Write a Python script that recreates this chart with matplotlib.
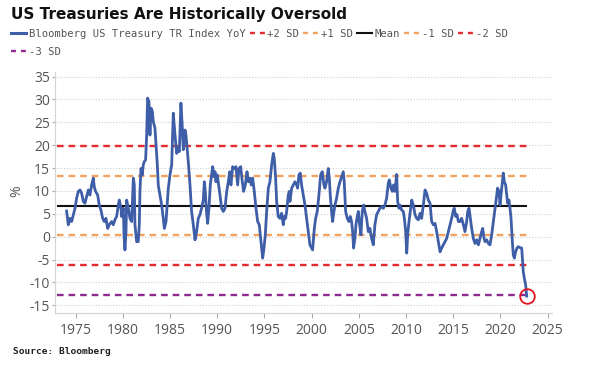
import matplotlib
matplotlib.use("Agg")
import matplotlib.pyplot as plt
from matplotlib.lines import Line2D

plt.rcParams['axes.unicode_minus'] = False

# ---- data ----
years = [1974.04, 1974.22, 1974.40, 1974.57, 1974.75, 1974.93, 1975.10, 1975.28, 1975.46, 1975.63,
         1975.81, 1975.98, 1976.16, 1976.34, 1976.51, 1976.69, 1976.87, 1976.97, 1977.11, 1977.33,
         1977.50, 1977.68, 1977.86, 1978.03, 1978.21, 1978.39, 1978.56, 1978.81, 1978.99, 1979.16,
         1979.34, 1979.52, 1979.62, 1979.80, 1979.87, 1980.05, 1980.12, 1980.22, 1980.33, 1980.40,
         1980.58, 1980.75, 1980.93, 1981.11, 1981.21, 1981.28, 1981.46, 1981.63, 1981.74, 1981.81,
         1981.92, 1982.06, 1982.16, 1982.27, 1982.41, 1982.52, 1982.62, 1982.77, 1982.87, 1982.98,
         1983.12, 1983.22, 1983.40, 1983.51, 1983.65, 1983.75, 1983.93, 1984.11, 1984.28, 1984.39,
         1984.57, 1984.81, 1984.99, 1985.17, 1985.34, 1985.52, 1985.70, 1985.87, 1985.98, 1986.15,
         1986.30, 1986.40, 1986.58, 1986.68, 1986.79, 1986.93, 1987.11, 1987.28, 1987.46, 1987.64,
         1987.81, 1987.99, 1988.17, 1988.34, 1988.52, 1988.63, 1988.73, 1988.87, 1988.98, 1989.12,
         1989.26, 1989.40, 1989.51, 1989.65, 1989.76, 1989.86, 1990.00, 1990.15, 1990.29, 1990.46,
         1990.64, 1990.82, 1991.00, 1991.17, 1991.31, 1991.45, 1991.63, 1991.80, 1991.98, 1992.16,
         1992.30, 1992.48, 1992.65, 1992.79, 1992.97, 1993.15, 1993.29, 1993.46, 1993.60, 1993.75,
         1993.92, 1994.10, 1994.28, 1994.45, 1994.63, 1994.81, 1994.95, 1995.09, 1995.23, 1995.41,
         1995.58, 1995.76, 1995.94, 1996.04, 1996.18, 1996.29, 1996.46, 1996.64, 1996.82, 1996.99,
         1997.10, 1997.24, 1997.35, 1997.52, 1997.63, 1997.70, 1997.88, 1998.05, 1998.23, 1998.41,
         1998.51, 1998.65, 1998.79, 1998.93, 1999.11, 1999.29, 1999.46, 1999.64, 1999.82, 1999.99,
         2000.10, 2000.28, 2000.42, 2000.59, 2000.77, 2000.95, 2001.12, 2001.30, 2001.41, 2001.58,
         2001.76, 2001.87, 2001.97, 2002.11, 2002.22, 2002.36, 2002.47, 2002.64, 2002.82, 2003.00,
         2003.17, 2003.35, 2003.45, 2003.60, 2003.77, 2003.95, 2004.09, 2004.23, 2004.34, 2004.44,
         2004.58, 2004.69, 2004.80, 2004.94, 2005.08, 2005.22, 2005.36, 2005.50, 2005.64, 2005.82,
         2006.00, 2006.17, 2006.35, 2006.53, 2006.70, 2006.88, 2007.06, 2007.23, 2007.41, 2007.59,
         2007.76, 2007.94, 2008.12, 2008.22, 2008.40, 2008.54, 2008.68, 2008.83, 2009.00, 2009.11,
         2009.25, 2009.36, 2009.54, 2009.71, 2009.82, 2009.96, 2010.07, 2010.17, 2010.31, 2010.45,
         2010.60, 2010.77, 2010.95, 2011.12, 2011.30, 2011.48, 2011.65, 2011.83, 2012.01, 2012.18,
         2012.36, 2012.54, 2012.71, 2012.89, 2013.07, 2013.24, 2013.42, 2013.60, 2013.77, 2013.95,
         2014.13, 2014.30, 2014.48, 2014.66, 2014.83, 2015.01, 2015.11, 2015.26, 2015.40, 2015.54,
         2015.71, 2015.89, 2016.07, 2016.24, 2016.42, 2016.53, 2016.67, 2016.81, 2016.95, 2017.13,
         2017.30, 2017.48, 2017.66, 2017.83, 2018.01, 2018.12, 2018.26, 2018.36, 2018.54, 2018.72,
         2018.89, 2019.07, 2019.25, 2019.42, 2019.60, 2019.70, 2019.85, 2019.95, 2020.06, 2020.20,
         2020.30, 2020.41, 2020.55, 2020.66, 2020.76, 2020.90, 2021.01, 2021.12, 2021.26, 2021.36,
         2021.47, 2021.61, 2021.75, 2021.89, 2022.07, 2022.25, 2022.32, 2022.42, 2022.53, 2022.67,
         2022.78]

yoy = [5.6, 2.6, 4.0, 3.3, 4.8, 6.2, 8.4, 9.9, 10.2, 9.5,
       7.7, 7.3, 8.8, 10.2, 9.1, 11.3, 12.8, 10.9, 9.9, 9.1,
       6.9, 5.8, 4.0, 3.3, 4.0, 1.8, 2.6, 3.3, 2.6, 3.7,
       4.4, 6.9, 8.0, 6.2, 4.4, 6.2, 0.4, -2.9, 1.1, 8.0,
       6.2, 4.0, 3.3, 12.8, 11.3, 2.6, -1.1, -1.1, 2.6, 9.9,
       14.9, 13.5, 15.7, 16.4, 16.8, 22.2, 30.3, 29.5, 22.2, 28.1,
       27.4, 25.2, 23.7, 20.1, 15.7, 11.3, 9.1, 6.9, 4.0, 1.8,
       3.3, 10.5, 13.5, 15.7, 27.0, 22.3, 18.2, 19.3, 18.6, 29.2,
       23.7, 19.0, 23.3, 22.3, 19.7, 16.4, 11.3, 5.5, 2.6, -0.7,
       1.1, 4.0, 4.8, 6.2, 8.0, 12.0, 9.8, 5.1, 2.9, 6.2,
       11.3, 13.5, 15.3, 13.1, 14.2, 12.0, 13.5, 11.3, 9.1, 6.2,
       5.5, 6.2, 9.9, 12.0, 14.2, 11.3, 15.3, 14.9, 15.3, 11.3,
       14.9, 15.3, 12.0, 9.9, 11.3, 14.2, 12.0, 12.8, 11.3, 12.8,
       9.9, 6.2, 3.3, 2.6, -1.1, -4.7, -2.5, 0.4, 5.5, 10.6,
       12.0, 15.7, 18.2, 17.1, 12.8, 7.7, 4.4, 4.0, 5.1, 2.6,
       4.4, 4.0, 5.5, 9.1, 9.9, 7.7, 10.6, 11.3, 12.0, 11.3,
       10.6, 13.5, 13.9, 11.3, 9.1, 6.9, 4.0, 1.1, -1.8, -2.5,
       -2.9, 1.8, 4.0, 5.5, 9.1, 13.5, 14.2, 11.3, 10.6, 12.0,
       14.9, 12.8, 9.1, 5.5, 3.3, 5.5, 6.9, 8.4, 10.6, 12.0,
       13.1, 14.2, 12.0, 5.5, 4.0, 3.3, 4.4, 3.3, 1.1, -2.5,
       -0.4, 2.6, 4.0, 5.5, 2.6, 0.4, 5.5, 6.9, 5.5, 4.0,
       1.1, 1.8, -0.4, -1.8, 2.6, 4.8, 5.5, 6.2, 6.6, 6.2,
       6.9, 8.4, 11.7, 12.4, 10.6, 9.9, 11.3, 9.9, 13.6, 7.7,
       6.2, 6.9, 5.8, 5.5, 4.0, 1.1, -3.6, 0.4, 3.3, 5.5,
       8.0, 6.9, 4.8, 4.0, 3.7, 5.1, 4.0, 6.9, 10.2, 9.5,
       8.0, 7.3, 3.3, 2.6, 2.9, 1.1, -1.1, -3.3, -2.5, -1.8,
       -1.1, -0.4, 1.1, 2.6, 4.0, 5.8, 6.2, 4.4, 4.8, 3.3,
       3.3, 4.0, 2.6, 1.1, 3.3, 5.5, 6.2, 4.0, 1.8, -0.4,
       -1.5, -0.7, -1.8, -0.4, 1.1, 1.8, -0.4, -1.1, -0.7, -1.5,
       -1.8, 0.4, 3.3, 6.2, 9.1, 10.6, 9.9, 6.9, 9.1, 12.0,
       13.9, 12.0, 11.3, 9.1, 7.3, 8.0, 6.2, 4.0, -1.1, -4.0,
       -4.7, -3.3, -2.5, -2.2, -2.4, -2.5, -4.7, -7.7, -9.1, -10.6,
       -13.0]

series_label = "Bloomberg US Treasury TR Index YoY"
sd_labels = ["+2 SD", "+1 SD", "Mean", "-1 SD", "-2 SD", "-3 SD"]
sd_levels = [19.8, 13.3, 6.8, 0.3, -6.2, -12.7]
sd_start, sd_end = 1973.0, 2022.78

x_ticks = [1975, 1980, 1985, 1990, 1995, 2000, 2005, 2010, 2015, 2020, 2025]
y_ticks = [-15, -10, -5, 0, 5, 10, 15, 20, 25, 30, 35]

# ---- styles ----
BLUE = "#3f5ea8"
RED = "#e42a2f"
ORANGE = "#f2a25e"
BLACK = "#111111"
PURPLE = "#8e2a91"
sd_colors = [RED, ORANGE, BLACK, ORANGE, RED, PURPLE]
DASH = (0, (2.8, 2.1))
LEG_DASH = (0, (2.1, 2.1))
sd_styles = [DASH, DASH, "solid", DASH, DASH, DASH]
leg_styles = [LEG_DASH, LEG_DASH, "solid", LEG_DASH, LEG_DASH, LEG_DASH]
sd_widths = [1.7, 1.7, 1.5, 1.7, 1.7, 1.7]
GRAY_TXT = "#555555"

W, H = 591, 378
fig = plt.figure(figsize=(W / 100, H / 100), dpi=100)
ax = fig.add_axes([55 / W, 1 - 313.3 / H, (552 - 55) / W, (313.3 - 72) / H])

ax.set_xlim(1972.81, 2025.46)
ax.set_ylim(-16.76, 36.0)

# grid
ax.set_yticks(y_ticks)
ax.set_xticks(x_ticks)
ax.yaxis.grid(True, linestyle=(0, (1, 1.6)), color="#cfcfcf", linewidth=0.8)
ax.xaxis.grid(False)
ax.set_axisbelow(True)

for s in ["top", "right"]:
    ax.spines[s].set_visible(False)
for s in ["left", "bottom"]:
    ax.spines[s].set_color("#d4d4d4")
    ax.spines[s].set_linewidth(0.8)

ax.tick_params(axis="x", direction="out", length=3.6, width=0.8, color="#aaaaaa",
               pad=3.5, labelcolor=GRAY_TXT, labelsize=10)
ax.tick_params(axis="y", direction="out", length=2.2, width=0.8, color="#aaaaaa",
               pad=1.5, labelcolor=GRAY_TXT, labelsize=10)
for lab in ax.get_xticklabels() + ax.get_yticklabels():
    lab.set_family("Open Sans")

# SD lines
sd_handles = []
for lvl, col, ls, lls, lw, lab in zip(sd_levels, sd_colors, sd_styles, leg_styles,
                                      sd_widths, sd_labels):
    ax.hlines(lvl, sd_start, sd_end, colors=col, linestyles=ls, linewidth=lw, zorder=3)
    sd_handles.append(Line2D([], [], color=col, linestyle=lls, linewidth=lw, label=lab))

# main series
main_line, = ax.plot(years, yoy, color=BLUE, linewidth=2.0, zorder=5,
                     solid_joinstyle="round", label=series_label)

# highlight circle at latest value
ax.plot([years[-1]], [yoy[-1]], marker="o", markersize=10.5, markerfacecolor="none",
        markeredgecolor="#e3141e", markeredgewidth=1.3, linestyle="none", zorder=6)

# legends
leg_font = {"family": "DejaVu Sans Mono", "size": 7.6}
leg_kw = dict(frameon=False, prop=leg_font, handlelength=1.42, handletextpad=0.25,
              columnspacing=0.4, borderpad=0, borderaxespad=0, labelcolor=GRAY_TXT,
              loc="center left")
h1 = [Line2D([], [], color=BLUE, linewidth=2.2)] + sd_handles[:5]
l1 = [series_label] + sd_labels[:5]
fig.legend(h1, l1, ncol=6, bbox_to_anchor=(11 / W, 1 - 34 / H), **leg_kw)
fig.legend(sd_handles[5:], sd_labels[5:], ncol=1, bbox_to_anchor=(11 / W, 1 - 52 / H), **leg_kw)

# texts
fig.text(11 / W, 1 - 19.5 / H, "US Treasuries Are Historically Oversold", family="DejaVu Sans",
         weight="bold", fontsize=11, color="#111111", va="baseline", ha="left")
fig.text(17 / W, 1 - 191 / H, "%", rotation=90, family="Open Sans", fontsize=10,
         color=GRAY_TXT, va="center", ha="center")
fig.text(13 / W, 1 - 352 / H, "Source: Bloomberg", family="DejaVu Sans Mono", weight="bold",
         fontsize=6.8, color="#222222", va="center", ha="left")

fig.savefig("out.png", dpi=100)
